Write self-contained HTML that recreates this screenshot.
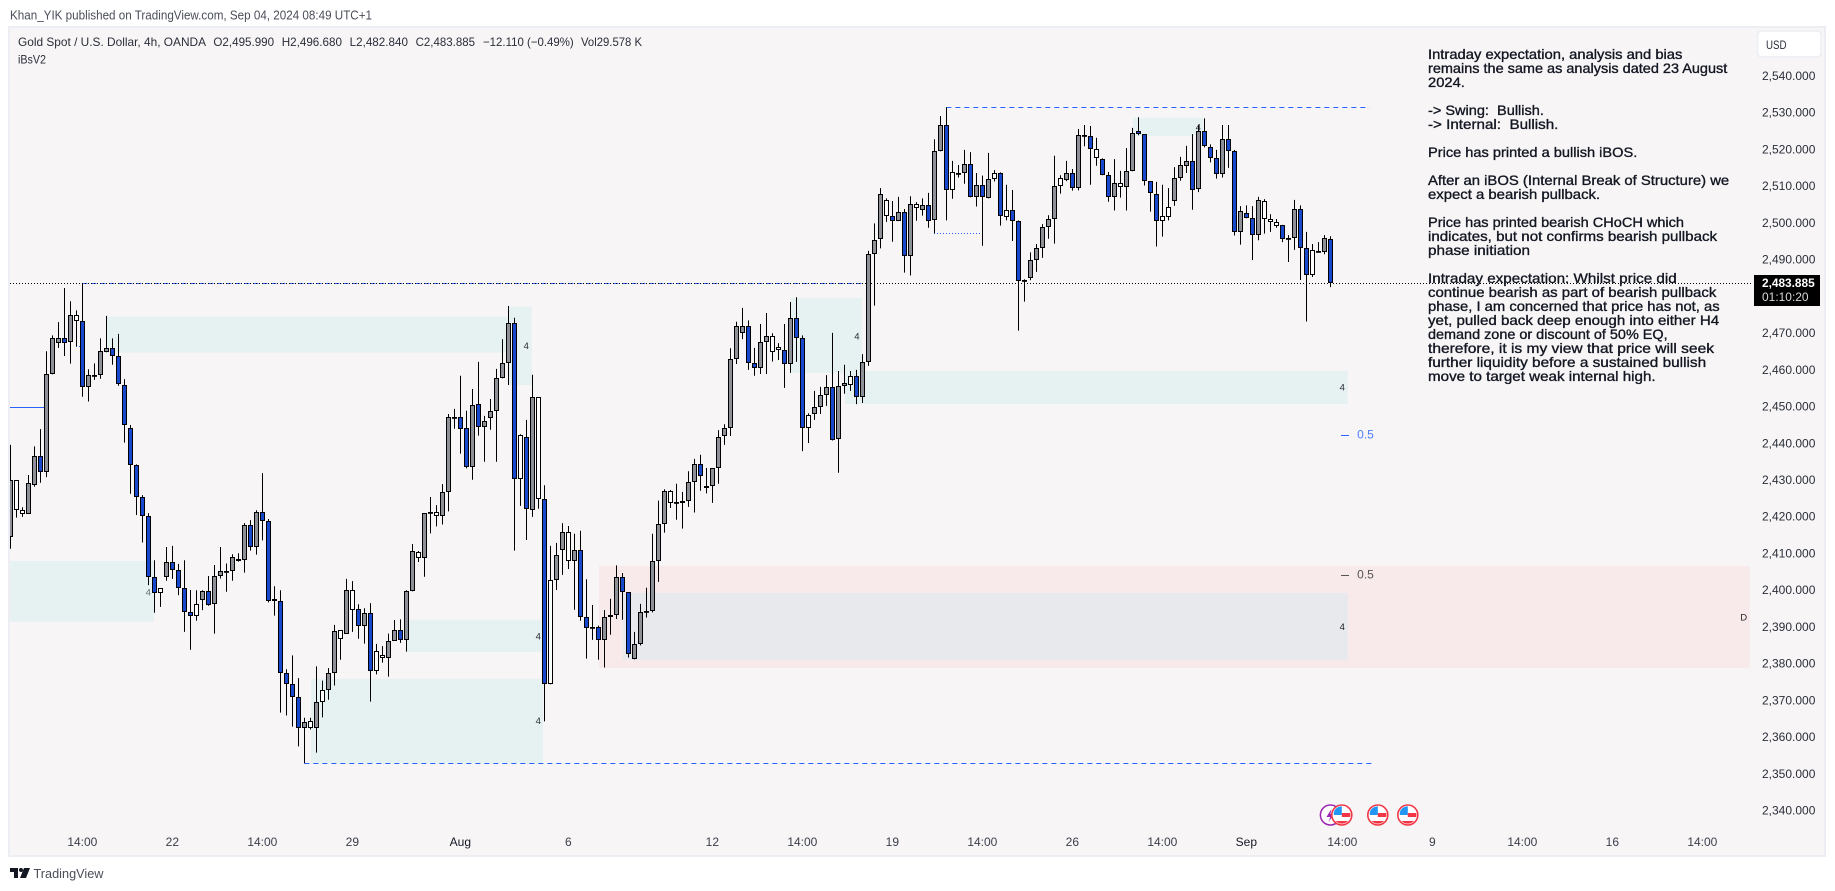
<!DOCTYPE html>
<html lang="en">
<head>
<meta charset="utf-8">
<title>Gold Spot / U.S. Dollar, 4h chart</title>
<style>
html,body{margin:0;padding:0;background:#fff;width:1835px;height:891px;overflow:hidden}
svg{display:block;font-family:"Liberation Sans",Arial,sans-serif}
</style>
</head>
<body>
<svg id="chart" xmlns="http://www.w3.org/2000/svg" width="1835" height="891" viewBox="0 0 1835 891">
  <defs>
    <clipPath id="pane-clip"><rect x="10" y="27" width="1742" height="828"/></clipPath>
    <clipPath id="flag-clip"><circle cx="0" cy="0" r="8.6"/></clipPath>
  </defs>
  <rect x="0" y="0" width="1835" height="891" fill="#ffffff"/>
  <text x="10" y="19.5" font-size="13" fill="#4a4e59" textLength="362" lengthAdjust="spacingAndGlyphs">Khan_YIK published on TradingView.com, Sep 04, 2024 08:49 UTC+1</text>
  <rect x="9" y="27" width="1816" height="829" fill="#f7f5f6" stroke="#eceef3" stroke-width="2"/>
  <g id="zones"></g>
  <g id="levels"></g>
  <g id="candles" clip-path="url(#pane-clip)"></g>
  <g id="zone-labels" font-size="9.5" fill="#3a3d46" text-anchor="middle"></g>

  <g font-size="12" fill="#2a2e39">
    <text x="18" y="46" textLength="188" lengthAdjust="spacingAndGlyphs">Gold Spot / U.S. Dollar, 4h, OANDA</text>
    <text x="213.4" y="46" textLength="60.7" lengthAdjust="spacingAndGlyphs">O2,495.990</text>
    <text x="281.7" y="46" textLength="60.3" lengthAdjust="spacingAndGlyphs">H2,496.680</text>
    <text x="349.6" y="46" textLength="58.4" lengthAdjust="spacingAndGlyphs">L2,482.840</text>
    <text x="415.6" y="46" textLength="59.4" lengthAdjust="spacingAndGlyphs">C2,483.885</text>
    <text x="483" y="46" textLength="90.7" lengthAdjust="spacingAndGlyphs">−12.110 (−0.49%)</text>
    <text x="581" y="46" textLength="61" lengthAdjust="spacingAndGlyphs">Vol29.578 K</text>
    <text x="18" y="63.5" textLength="28" lengthAdjust="spacingAndGlyphs">iBsV2</text>
  </g>

  <g font-size="14" fill="#131722" stroke="#131722" stroke-width="0.35">
    <text x="1428" y="59" textLength="254.4" lengthAdjust="spacingAndGlyphs">Intraday expectation, analysis and bias</text>
    <text x="1428" y="73" textLength="299.3" lengthAdjust="spacingAndGlyphs">remains the same as analysis dated 23 August</text>
    <text x="1428" y="87" textLength="36.9" lengthAdjust="spacingAndGlyphs">2024.</text>
    <text x="1428" y="115" textLength="115.9" lengthAdjust="spacingAndGlyphs" xml:space="preserve">-&gt; Swing:  Bullish.</text>
    <text x="1428" y="129" textLength="130.4" lengthAdjust="spacingAndGlyphs" xml:space="preserve">-&gt; Internal:  Bullish.</text>
    <text x="1428" y="157" textLength="209.3" lengthAdjust="spacingAndGlyphs">Price has printed a bullish iBOS.</text>
    <text x="1428" y="185" textLength="301.2" lengthAdjust="spacingAndGlyphs">After an iBOS (Internal Break of Structure) we</text>
    <text x="1428" y="199" textLength="172.1" lengthAdjust="spacingAndGlyphs">expect a bearish pullback.</text>
    <text x="1428" y="227" textLength="256" lengthAdjust="spacingAndGlyphs">Price has printed bearish CHoCH which</text>
    <text x="1428" y="241" textLength="289.1" lengthAdjust="spacingAndGlyphs">indicates, but not confirms bearish pullback</text>
    <text x="1428" y="255" textLength="102" lengthAdjust="spacingAndGlyphs">phase initiation</text>
    <text x="1428" y="283" textLength="248.7" lengthAdjust="spacingAndGlyphs">Intraday expectation: Whilst price did</text>
    <text x="1428" y="297" textLength="288.3" lengthAdjust="spacingAndGlyphs">continue bearish as part of bearish pullback</text>
    <text x="1428" y="311" textLength="291.6" lengthAdjust="spacingAndGlyphs">phase, I am concerned that price has not, as</text>
    <text x="1428" y="325" textLength="291.2" lengthAdjust="spacingAndGlyphs">yet, pulled back deep enough into either H4</text>
    <text x="1428" y="339" textLength="239.6" lengthAdjust="spacingAndGlyphs">demand zone or discount of 50% EQ,</text>
    <text x="1428" y="353" textLength="286" lengthAdjust="spacingAndGlyphs">therefore, it is my view that price will seek</text>
    <text x="1428" y="367" textLength="278.1" lengthAdjust="spacingAndGlyphs">further liquidity before a sustained bullish</text>
    <text x="1428" y="381" textLength="227.6" lengthAdjust="spacingAndGlyphs">move to target weak internal high.</text>
  </g>

  <g id="price-axis" font-size="12" fill="#2a2e39"></g>
  <g id="time-axis" font-size="12" fill="#3a3e49" text-anchor="middle"></g>

  <g>
    <rect x="1757.5" y="31" width="63.5" height="26" rx="4" fill="#ffffff" stroke="#eceef3" stroke-width="1.5"/>
    <text x="1766" y="49" font-size="11.5" fill="#2a2e39" textLength="20.5" lengthAdjust="spacingAndGlyphs">USD</text>
  </g>

  <g>
    <rect x="1754" y="275" width="66" height="31" fill="#000000"/>
    <text x="1762" y="287" font-size="12" font-weight="700" fill="#ffffff" textLength="52.7" lengthAdjust="spacingAndGlyphs">2,483.885</text>
    <text x="1762" y="301" font-size="12" fill="#d8d8d8" textLength="46.6" lengthAdjust="spacingAndGlyphs">01:10:20</text>
  </g>

  <g transform="translate(1330.4,815)">
    <circle r="10" fill="#ffffff" stroke="#9c27b0" stroke-width="1.5"/>
    <path d="M1 -6 L-4 2 L0 2 L-2 7 L4 -1 L0 -1 Z" fill="#9c27b0"/>
  </g>
  <g transform="translate(1341.8,815)">
    <circle r="10" fill="#ffffff" stroke="#f23645" stroke-width="1.6"/>
    <g clip-path="url(#flag-clip)">
      <rect x="-8" y="-9" width="8" height="9" fill="#2196f3"/>
      <rect x="0" y="-2" width="9" height="4" fill="#f23645"/>
      <rect x="-9" y="6" width="18" height="3" fill="#f23645"/>
    </g>
  </g>
  <g transform="translate(1377.8,815)">
    <circle r="10" fill="#ffffff" stroke="#f23645" stroke-width="1.6"/>
    <g clip-path="url(#flag-clip)">
      <rect x="-8" y="-9" width="8" height="9" fill="#2196f3"/>
      <rect x="0" y="-2" width="9" height="4" fill="#f23645"/>
      <rect x="-9" y="6" width="18" height="3" fill="#f23645"/>
    </g>
  </g>
  <g transform="translate(1407.8,815)">
    <circle r="10" fill="#ffffff" stroke="#f23645" stroke-width="1.6"/>
    <g clip-path="url(#flag-clip)">
      <rect x="-8" y="-9" width="8" height="9" fill="#2196f3"/>
      <rect x="0" y="-2" width="9" height="4" fill="#f23645"/>
      <rect x="-9" y="6" width="18" height="3" fill="#f23645"/>
    </g>
  </g>

  <g>
    <path d="M10 868 H18 V878 H14 V872 H10 Z M24 868 H30 L26 878 H20 Z" fill="#131722"/>
    <circle cx="21" cy="870" r="2" fill="#131722"/>
    <text x="33.5" y="878" font-size="13" fill="#4a4e59" textLength="70" lengthAdjust="spacingAndGlyphs">TradingView</text>
  </g>
</svg>

<script>
const highs=[
2439.9,2430.3,2422.9,2431.7,2439.5,2444.2,2465.4,2469.7,2473.3,2482.6,
2479,2476.5,2483.9,2460.5,2462.1,2468.9,2475,2468.9,2470.1,2457.8,
2445.3,2434.6,2426.2,2421.3,2408.5,2400.8,2412.1,2412.4,2407.5,2408.5,
2400.4,2400.3,2400.3,2404.2,2407.2,2412.1,2407.6,2410.1,2410.4,2418.6,
2419.4,2422.1,2432.2,2419.7,2401.4,2400.3,2378.8,2382.6,2376.4,2365.6,
2365.6,2379.6,2375.7,2379.1,2390.9,2389.4,2403.4,2402.8,2396.5,2395.4,
2396.8,2385.7,2385.1,2388.5,2392.2,2392.4,2400.3,2412.9,2411,2421.3,
2425.7,2423.5,2429.2,2448.3,2449.7,2458.7,2449.2,2455.1,2462.5,2447.8,
2452.4,2460.6,2468.7,2477.7,2474.5,2442.8,2446.7,2459,2452.9,2428.9,
2412.4,2413.2,2418.6,2417.8,2415.7,2416.5,2403.3,2396.3,2390.7,2394.9,
2398,2407.1,2405,2399.8,2389,2396.6,2401,2415.7,2424.7,2427.8,
2427.6,2429.3,2427.1,2432.7,2436.1,2437.2,2433.6,2433.5,2443.9,2445.5,
2466.2,2473.4,2477.2,2473.8,2466.3,2472.8,2475.8,2470.3,2467.6,2472.8,
2478.8,2480.1,2469.7,2448.5,2454.6,2455.7,2458.9,2470.4,2460,2461.7,
2460,2460.3,2464.6,2492.7,2500.2,2509.8,2507,2506.3,2507.4,2504.1,
2507.6,2506,2507,2508.5,2523.1,2529.4,2531.8,2517.2,2516.1,2520.2,
2519.6,2513.9,2513.2,2519.4,2514.7,2514.1,2510.7,2509.3,2501,2485,
2492.3,2494.6,2500,2502.4,2518.6,2513.3,2517.2,2515,2525.9,2527,
2526.7,2523.5,2517.9,2514.2,2517.7,2514.5,2520.7,2526.2,2529.1,2524.5,
2511.7,2511.5,2510.7,2509.8,2515.5,2518.3,2521.3,2524.5,2527,2528.8,
2521.7,2520.2,2527,2527,2520.2,2504.9,2505.1,2504.9,2507.4,2506.8,
2502.7,2501.4,2499.8,2497,2506.6,2505.1,2497.9,2494.6,2495.1,2497,2496.68];
const lows=[
2411.6,2420.1,2420.3,2421.2,2428.5,2429.6,2431.1,2459.1,2466.3,2464.1,
2462,2466.7,2453,2451.7,2457.6,2457.9,2465.1,2461.7,2456,2440.5,
2426.6,2420.8,2413.3,2401.7,2394.2,2395.8,2402.9,2403.4,2399,2389,
2384.1,2392,2394.9,2396.1,2388.5,2403.5,2399.9,2402.9,2408.1,2405.1,
2411.1,2410,2413.9,2397,2393.4,2367,2366.2,2363.2,2357.8,2353.2,
2362.4,2356.1,2365.7,2370.5,2374.4,2381.4,2388.4,2389,2387.1,2385.8,
2370,2377.4,2380.6,2376.8,2386.5,2386,2383.6,2400,2408,2404,
2415.8,2417.7,2418.2,2421.8,2444.3,2437.5,2433.5,2430.4,2442.4,2435.3,
2444,2435.3,2458,2456.2,2411.1,2423.3,2414,2420.3,2422.5,2364.6,
2374.7,2400.4,2404.5,2406.1,2395,2392,2381.7,2386.8,2381.4,2379.3,
2388.2,2392.5,2392.3,2382,2381.5,2385.3,2392.9,2394.3,2402.6,2416,
2422.7,2419.5,2417.1,2423,2421.5,2427.4,2426.7,2424.1,2429.3,2439.9,
2442.3,2461.9,2468.7,2460.3,2458.7,2459.2,2459.2,2462.6,2463,2455.4,
2459.5,2462.5,2438.2,2440.4,2446.7,2448.3,2450.5,2441.1,2432.3,2453.8,
2454.6,2451,2451.3,2461.4,2477.8,2493.4,2500.6,2495.2,2500.8,2486.8,
2486,2500.9,2502.3,2499,2497.5,2519.8,2501,2506.9,2512.7,2511,
2507.3,2504.8,2494.1,2507,2511.6,2499.6,2501,2495.4,2471,2478.9,
2484.7,2487,2490.8,2496,2494.7,2508.3,2511.7,2509.1,2509.2,2521.2,
2510.7,2515.9,2513.3,2506.1,2503.7,2507.2,2503.7,2514.4,2524.2,2510.5,
2503.4,2493.9,2496.6,2501,2505,2511.8,2513.9,2503.9,2508.7,2520.9,
2516.8,2512.4,2512.7,2515.3,2496.9,2494.4,2501.6,2490.2,2495.6,2497.4,
2497.9,2499,2495.1,2489.7,2493,2484.8,2473.5,2485.6,2492.3,2491.8,2482.84];
const opens=[
2414.9,2422.3,2421.2,2421.2,2429.1,2436.8,2432.6,2459.1,2467.7,2468.9,
2467.8,2473.5,2473.5,2455.6,2458.7,2458.8,2465.3,2466.2,2464,2456.1,
2444.4,2434.3,2425.6,2420.4,2403.8,2399.7,2403.8,2407.9,2405.7,2400.8,
2394.3,2393.2,2397.6,2400,2396.7,2404.1,2405.4,2405.5,2408.4,2408.5,
2418,2412,2421.6,2419.1,2397.9,2397.3,2377.7,2374.7,2371.2,2362.8,
2362.8,2362.8,2369.8,2373.1,2377.7,2387,2388.4,2394.9,2395.2,2390.5,
2394.1,2378.3,2381.8,2381.8,2386.5,2389.4,2386.7,2400,2409,2409,
2421.5,2420.5,2420.5,2427.2,2447.5,2447.4,2444.4,2433.8,2451,2444.7,
2447.2,2449.1,2458,2462.1,2473,2430.6,2442,2422.1,2425.1,2425.1,
2374.7,2403.1,2411.4,2408.2,2408.2,2411.2,2393,2390.2,2390.3,2386.7,
2393,2393.5,2403.9,2399.8,2381.5,2385.6,2394.5,2394.6,2408.2,2418.3,
2424,2424.2,2424,2424.5,2429.7,2434.6,2428.1,2428.6,2433.5,2442.2,
2444.4,2463.2,2470.3,2472.2,2462.1,2460.8,2467.8,2465.1,2465.6,2465.7,
2461.8,2474.4,2468.9,2444.4,2448.2,2450.1,2453.4,2455.6,2441.4,2455.9,
2456.1,2458.6,2452.9,2462.4,2491.8,2495.9,2502.1,2502.1,2500.8,2503.2,
2491.2,2504.3,2503.8,2505.1,2501,2519.8,2526.9,2509.2,2513.7,2513.8,
2516.3,2507.3,2510.6,2507,2512.2,2513.8,2501.9,2503.8,2500.8,2484.7,
2485.2,2490.1,2493.4,2499.1,2501.3,2510.3,2511.9,2513.8,2509.8,2524.2,
2523.9,2517.9,2517.6,2513.3,2507.3,2510,2510,2514.4,2525.3,2524.5,
2511.7,2508.1,2500.8,2501.9,2506.2,2512.5,2515.7,2517.1,2509.5,2525.3,
2520.9,2517.9,2513.6,2523.1,2519.8,2497.8,2502.9,2501.6,2497,2501.3,
2500.5,2499.4,2499.7,2496.1,2496.1,2504,2493.4,2486.1,2492.5,2492.3,2495.99];
const closes=[
2430.3,2430.3,2422.1,2429.4,2436.8,2432.6,2459.1,2468.9,2468.9,2467.7,
2475.2,2475.2,2455.6,2458.8,2458.8,2465.4,2466.2,2464,2456.4,2445.2,
2434.3,2425.6,2420.4,2403.8,2399.7,2400.8,2407.9,2405.7,2400.8,2394.3,
2393.2,2396.5,2400,2396.4,2404.1,2405.5,2405.5,2409.5,2408.8,2418,
2412,2421.6,2419.1,2397.3,2397.3,2377.7,2374.7,2371.2,2362.8,2364.4,
2364.7,2369.8,2373.1,2377.7,2389.2,2389.4,2400.3,2400.3,2390.5,2394.1,
2378.3,2383.7,2382.6,2386.5,2389.4,2386.7,2400,2411,2410.7,2421.3,
2421.6,2421.6,2427,2447.6,2447.6,2444.3,2433.8,2450.7,2444.7,2446.3,
2449.1,2458,2462.1,2473,2430.6,2442.5,2422.4,2452.9,2452.9,2374.7,
2403.1,2409.9,2416.1,2416.1,2411.2,2393,2390,2390.3,2386.7,2393,
2393.5,2403.9,2399.8,2382.9,2385.6,2394.3,2394.6,2408.2,2418.3,2427.3,
2427.3,2424.3,2424.5,2429.7,2434.6,2431.3,2428.6,2433.5,2442,2444.4,
2463.2,2472.2,2472.2,2462.1,2460.8,2467.8,2469.5,2469.5,2466.5,2461.8,
2474.4,2468.9,2444.4,2448,2450.1,2453.4,2455.6,2441.1,2455.9,2456.7,
2458.6,2452.9,2462.4,2491.8,2495.8,2508.2,2506.5,2500.8,2503.2,2491.2,
2505.4,2505.4,2505.1,2500.8,2519.8,2526.9,2509.2,2514.1,2513.8,2516.3,
2507.3,2510.6,2507.3,2512.2,2513.8,2502.1,2503.8,2500.8,2484.4,2484.4,
2490.1,2493.4,2499.1,2501.3,2510.3,2512.5,2513.8,2509.8,2524.2,2523.9,
2520.4,2520.4,2513.3,2507.3,2511.1,2511.1,2514.4,2524.7,2524.5,2511.7,
2508.4,2500.8,2502.1,2504.6,2512.5,2516,2517.1,2509.2,2525.3,2521.2,
2517.9,2513.6,2523.1,2519.8,2497.8,2503.5,2501.6,2497,2506.5,2506.2,
2501.3,2500.5,2495.9,2496.2,2504,2493.4,2486.1,2492.9,2492.6,2496.1,2483.885];
const hollowBars=[1,2,11,25,31,50,52,55,57,61,62,68,71,85,88,90,93,110,127,128,133,140,146,151,157,164,166,175,181,185,192,193,209,210,211,217];
const priceTicks=[2540,2530,2520,2510,2500,2490,2480,2470,2460,2450,2440,2430,2420,2410,2400,2390,2380,2370,2360,2350,2340];
const timeTickBars=[12,27,42,57,75,93,117,132,147,162,177,192,206,222,237,252,267,282];
const timeTickLabels=['14:00','22','14:00','29','Aug','6','12','14:00','19','14:00','26','14:00','Sep','14:00','9','14:00','16','14:00'];
const lastPrice=2483.885;
const tealZoneStart=[16,83.1,0,66.1,50.1,130,139.1,187.1];
const tealZoneEnd=[83.3,86.9,23.9,88.6,88.8,141.9,222.9,198.8];
const tealZoneTop=[2474.8,2477.5,2408.3,2392.3,2376.2,2479.9,2460,2528.9];
const tealZoneBottom=[2465,2456.2,2391.7,2383.5,2353.2,2459.5,2451,2524];
const swingHigh=2531.8;
const swingLow=2353.2;

const NS='http://www.w3.org/2000/svg';
function xOf(bar){return 10.33+6*bar;}
function yOf(price){return 283.3+(2483.885-price)*3.673;}
function snap(v){return Math.floor(v)+0.5;}
function make(tag,attrs,parent){
  const el=document.createElementNS(NS,tag);
  for(const k in attrs){el.setAttribute(k,attrs[k]);}
  parent.appendChild(el);
  return el;
}

/* zones */
const zonesLayer=document.getElementById('zones');
function addZone(name,start,end,top,bottom,fill){
  const el=make('rect',{x:xOf(start),y:yOf(top),width:xOf(end)-xOf(start),height:yOf(bottom)-yOf(top),fill:fill},zonesLayer);
  
  
}
addZone('daily-supply-zone',98.1,289.9,2406.9,2379.1,'#f8eaea');
tealZoneStart.forEach(function(s,i){
  addZone('h4-demand-zone',s,tealZoneEnd[i],tealZoneTop[i],tealZoneBottom[i],'#e6f1f2');
});
addZone('h4-zone-overlap',102.1,222.9,2399.6,2381.3,'#e8e9ec');

/* levels */
const levelsLayer=document.getElementById('levels');
function addLevel(name,x1,x2,y,color,dash,width){
  const el=make('line',{x1:x1,x2:x2,y1:y,y2:y,stroke:color,'stroke-width':width||1,'stroke-dasharray':dash},levelsLayer);
  
  
}
addLevel('last-price-blue-level',xOf(12),865,snap(yOf(lastPrice)),'#2962ff','5 4');
addLevel('last-price-line',10,1752,snap(yOf(lastPrice)),'#000000','1 2');
addLevel('swing-high-line',xOf(156),1369.5,snap(yOf(swingHigh)),'#2962ff','5 4');
addLevel('swing-low-line',xOf(49),1372,snap(yOf(swingLow)),'#2962ff','5 4');
addLevel('old-level-solid',10,44,407.5,'#2962ff','none');
addLevel('choch-dotted-line',934,980,233.5,'#2962ff','1 2');
addLevel('choch-dotted-short',76,81,346.5,'#2962ff','1 2');
addLevel('equilibrium-tick-blue',1341,1349,435.5,'#2962ff','none');
addLevel('equilibrium-tick-grey',1341,1349,575.5,'#555555','none');

/* candles */
const candlesLayer=document.getElementById('candles');
highs.forEach(function(h,i){
  const cx=snap(xOf(i));
  const isUp=closes[i]>=opens[i];
  const hollow=hollowBars.indexOf(i)>=0;
  const fill=hollow?'#ffffff':(isUp?'#8e9098':'#1848cc');
  const topPx=Math.round(yOf(Math.max(opens[i],closes[i])))+0.5;
  const botPx=Math.round(yOf(Math.min(opens[i],closes[i])))-0.5;
  const group=make('g',{},candlesLayer);
  
  
  const wick=make('line',{x1:cx,x2:cx,y1:yOf(h),y2:yOf(lows[i]),stroke:'#000000','stroke-width':1},group);
  
  
  const body=make('rect',{x:cx-2,y:topPx,width:4,height:Math.max(0.8,botPx-topPx),fill:fill,stroke:'#000000','stroke-width':1},group);
  
  
});

/* zone labels */
const labelsLayer=document.getElementById('zone-labels');
const zoneLabelTexts=['4','4','4','4','4','4','4','4','D','0.5','0.5'];
const zoneLabelBars=[86,23,88,88,141.1,222,198,222,288.9,225,225];
const zoneLabelPrices=[2466.9,2399.9,2387.9,2364.8,2469.6,2455.6,2526.5,2390.4,2393.1,2442.6,2404.4];
const zoneLabelColors=['#2a2d36','#6a6d76','#2a2d36','#2a2d36','#2a2d36','#2a2d36','#2a2d36','#1e2026','#1e2026','#4d7dff','#555555'];
zoneLabelTexts.forEach(function(t,i){
  const el=make('text',{x:xOf(zoneLabelBars[i]),y:yOf(zoneLabelPrices[i])+3.5,fill:zoneLabelColors[i]},labelsLayer);
  el.textContent=t;
  
  
  if(t==='0.5'){el.setAttribute('font-size','12');el.setAttribute('x',1365.5);}
});

/* price axis */
const priceAxis=document.getElementById('price-axis');
priceTicks.forEach(function(p){
  const el=make('text',{x:1762,y:yOf(p)+2.8},priceAxis);
  el.textContent=p.toLocaleString('en-US',{minimumFractionDigits:3,maximumFractionDigits:3});
  
  
});

/* time axis */
const timeAxis=document.getElementById('time-axis');
timeTickBars.forEach(function(b,i){
  const label=timeTickLabels[i];
  const el=make('text',{x:xOf(b),y:846},timeAxis);
  el.textContent=label;
  if(label==='Aug'||label==='Sep'){el.setAttribute('fill','#131722');}
  
  
});
</script>
</body>
</html>
